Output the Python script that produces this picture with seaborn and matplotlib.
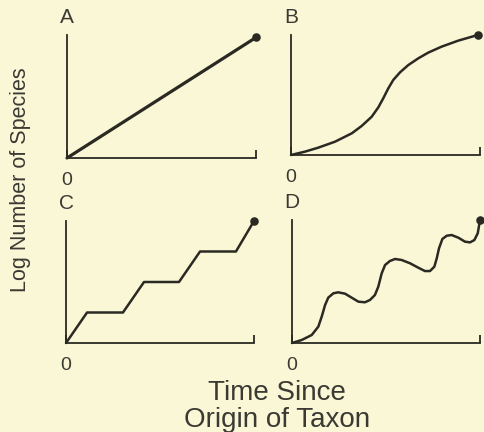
import numpy as np
import pandas as pd
import seaborn as sns
import matplotlib.pyplot as plt

# panel A - constant rate
time_a = [0, 10]
logn_a = [0, 9.8]

# panel B - sigmoid
time_b = [0, 0.74, 1.44, 2.33, 3.22, 3.74, 4.27, 4.62, 4.88, 5.15, 5.41, 5.77,
          6.21, 6.74, 7.26, 7.97, 8.85, 9.88]
logn_b = [0, 0.28, 0.61, 1.11, 1.81, 2.42, 3.19, 3.97, 4.72, 5.56, 6.25, 6.89,
          7.5, 8.06, 8.53, 9.03, 9.53, 10.0]

# panel C - stepwise
time_c = [0, 1.12, 3.03, 4.15, 6.01, 7.13, 9.04, 10]
logn_c = [0, 2.5, 2.5, 5, 5, 7.5, 7.5, 10]

# panel D - fluctuating
time_d = [0, 0.51, 1.05, 1.40, 1.58, 1.76, 1.93, 2.20, 2.46, 2.82, 3.17, 3.53,
          3.88, 4.15, 4.41, 4.59, 4.77, 4.95, 5.21, 5.48, 5.83, 6.28, 6.72, 7.07,
          7.34, 7.57, 7.70, 7.82, 8.0, 8.23, 8.49, 8.85, 9.20, 9.47, 9.70, 9.88, 10.0]
logn_d = [0, 0.24, 0.65, 1.33, 2.14, 3.09, 3.69, 4.04, 4.12, 4.01, 3.69, 3.36,
          3.31, 3.5, 3.9, 4.58, 5.66, 6.34, 6.67, 6.83, 6.75, 6.48, 6.12, 5.85,
          5.85, 6.2, 6.89, 7.7, 8.46, 8.72, 8.78, 8.56, 8.24, 8.18, 8.37, 8.92, 10.0]

panel_labels = ['A', 'B', 'C', 'D']

bg = '#faf7d7'
ink = '#2a2a22'
txt = '#3a3a33'

sns.set_theme(style='white', rc={'axes.facecolor': bg, 'figure.facecolor': bg})
plt.rcParams['font.family'] = ['Liberation Sans', 'DejaVu Sans']

W, H = 484, 432
fig = plt.figure(figsize=(W / 100, H / 100), dpi=100)

# axes boxes in pixels: left, top, right, bottom
boxes = [(67, 35, 256, 158), (291, 35, 480, 155),
         (66, 221, 254, 343), (292, 220, 480, 343)]
series = [(time_a, logn_a, 2.3), (time_b, logn_b, 1.8),
          (time_c, logn_c, 1.8), (time_d, logn_d, 1.8)]

for (l, t, r, b), (tx, ny, lw), lab in zip(boxes, series, panel_labels):
    ax = fig.add_axes([l / W, 1 - b / H, (r - l) / W, (b - t) / H])
    sns.lineplot(x=tx, y=ny, ax=ax, sort=False, estimator=None, color=ink,
                 linewidth=lw, clip_on=False, solid_joinstyle='round')
    sns.scatterplot(x=tx[-1:], y=ny[-1:], ax=ax, color=ink, s=38,
                    edgecolor=ink, linewidth=0, clip_on=False, zorder=5)
    ax.set_xlim(0, 10)
    ax.set_ylim(0, 10)
    ax.spines[['top', 'right']].set_visible(False)
    for s in ['left', 'bottom']:
        ax.spines[s].set_color(ink)
        ax.spines[s].set_linewidth(1.3)
    ax.set_xticks([0, 10])
    ax.set_xticklabels(['0', ''])
    ax.set_yticks([])
    ax.tick_params(axis='x', bottom=True, direction='in', length=6, width=1.3,
                   color=ink, pad=10, labelsize=14, labelcolor=txt)
    ax.set_xlabel('')
    ax.set_ylabel('')
    ax.annotate(lab, xy=(0, 1), xycoords='axes fraction', xytext=(0, 6),
                textcoords='offset points', ha='center', va='bottom',
                fontsize=15, color=txt)

fig.text(21 / W, 1 - 180 / H, 'Log Number of Species', rotation=90,
         ha='center', va='center', fontsize=15.5, color=txt)
fig.text(277 / W, 1 - 400 / H, 'Time Since', ha='center', va='baseline',
         fontsize=20, color=txt)
fig.text(277 / W, 1 - 427 / H, 'Origin of Taxon', ha='center', va='baseline',
         fontsize=20, color=txt)

fig.savefig('out.png', dpi=100, facecolor=bg)
